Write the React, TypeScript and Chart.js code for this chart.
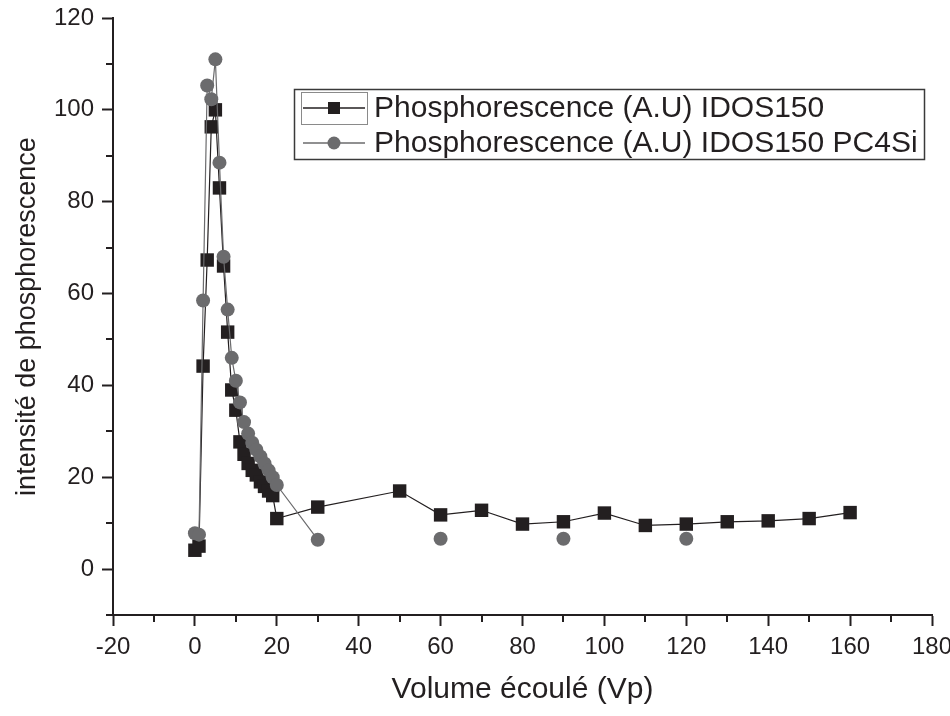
import React, { useEffect, useRef } from "react";
import { Chart, registerables } from "chart.js";

Chart.register(...registerables);

// ---- data ----
const volumeIDOS = [0, 1, 2, 3, 4, 5, 6, 7, 8, 9, 10, 11, 12, 13, 14, 15, 16, 17, 18, 19, 20, 30, 50, 60, 70, 80, 90, 100, 110, 120, 130, 140, 150, 160];
const intensIDOS = [4.1, 5, 44.2, 67.3, 96.3, 100, 83, 66, 51.6, 39, 34.6, 27.7, 25, 23, 21.5, 20.5, 19, 18, 17, 16, 11, 13.5, 17, 11.8, 12.8, 9.8, 10.3, 12.2, 9.5, 9.8, 10.3, 10.5, 11, 12.3];

const volumePC4Si = [0, 1, 2, 3, 4, 5, 6, 7, 8, 9, 10, 11, 12, 13, 14, 15, 16, 17, 18, 19, 20, 30, 60, 90, 120];
const intensPC4Si = [7.8, 7.5, 58.5, 105.3, 102.3, 111, 88.5, 68, 56.5, 46, 41, 36.3, 32, 29.5, 27.5, 26, 24.5, 23, 21.5, 20, 18.3, 6.4, 6.6, 6.6, 6.6];

const seriesLabels = ["Phosphorescence (A.U) IDOS150", "Phosphorescence (A.U) IDOS150 PC4Si"];
const xTitle = "Volume écoulé (Vp)";
const yTitle = "intensité de phosphorescence";

const xTickValues = [-20, -10, 0, 10, 20, 30, 40, 50, 60, 70, 80, 90, 100, 110, 120, 130, 140, 150, 160, 170, 180];
const yTickValues = [-10, 0, 10, 20, 30, 40, 50, 60, 70, 80, 90, 100, 110, 120];

const DARK = "#231f20";
const GRAY = "#6b6b6d";
const FONT = "'Liberation Sans', Arial, sans-serif";

const minorTicksPlugin = {
  id: "minorTicks",
  afterDraw(chart: any) {
    const ctx = chart.ctx;
    const xs = chart.scales.x;
    const ys = chart.scales.y;
    ctx.save();
    ctx.strokeStyle = DARK;
    ctx.lineWidth = 2;
    ctx.beginPath();
    xTickValues.forEach((v) => {
      if (v % 20 !== 0) {
        const px = Math.round(xs.getPixelForValue(v));
        ctx.moveTo(px, ys.bottom);
        ctx.lineTo(px, ys.bottom + 7);
      }
    });
    yTickValues.forEach((v) => {
      if (v % 20 !== 0) {
        const py = Math.round(ys.getPixelForValue(v));
        ctx.moveTo(xs.left, py);
        ctx.lineTo(xs.left - 7, py);
      }
    });
    ctx.stroke();
    ctx.restore();
  },
};

const boxLegendPlugin = {
  id: "boxLegend",
  afterDraw(chart: any) {
    const ctx = chart.ctx;
    ctx.save();
    ctx.strokeStyle = "#3a3a3a";
    ctx.lineWidth = 1.5;
    ctx.strokeRect(294.5, 89.5, 630, 70);
    ctx.strokeStyle = "#8a8a8a";
    ctx.lineWidth = 1;
    ctx.strokeRect(301.5, 92.5, 66, 32);
    const rows = [
      { y: 108, color: DARK, style: "rect" },
      { y: 143, color: GRAY, style: "circle" },
    ];
    rows.forEach((r, i) => {
      ctx.strokeStyle = r.color;
      ctx.lineWidth = 1.5;
      ctx.beginPath();
      ctx.moveTo(303, r.y);
      ctx.lineTo(365, r.y);
      ctx.stroke();
      ctx.fillStyle = r.color;
      if (r.style === "rect") {
        ctx.fillRect(328, r.y - 6, 12, 12);
      } else {
        ctx.beginPath();
        ctx.arc(334, r.y, 6.5, 0, Math.PI * 2);
        ctx.fill();
      }
      ctx.fillStyle = DARK;
      ctx.font = `30px ${FONT}`;
      ctx.textBaseline = "middle";
      ctx.textAlign = "left";
      ctx.fillText(seriesLabels[i], 374, r.y + 1);
    });
    ctx.restore();
  },
};

export default function App() {
  const canvasRef = useRef<HTMLCanvasElement | null>(null);

  useEffect(() => {
    if (!canvasRef.current) return;
    const chart = new Chart(canvasRef.current, {
      type: "line",
      data: {
        datasets: [
          {
            label: seriesLabels[1],
            data: volumePC4Si.map((x, i) => ({ x, y: intensPC4Si[i] })),
            borderColor: GRAY,
            backgroundColor: GRAY,
            borderWidth: 1.2,
            pointStyle: "circle",
            pointRadius: 7,
            pointBorderWidth: 0,
            pointBackgroundColor: GRAY,
            order: 0,
            segment: {
              borderColor: (c: any) => (c.p0.parsed.x >= 30 ? "transparent" : GRAY),
            },
          },
          {
            label: seriesLabels[0],
            data: volumeIDOS.map((x, i) => ({ x, y: intensIDOS[i] })),
            borderColor: DARK,
            backgroundColor: DARK,
            borderWidth: 1.2,
            pointStyle: "rect",
            pointRadius: 9.5,
            pointBorderWidth: 0,
            pointBackgroundColor: DARK,
            order: 1,
          },
        ],
      },
      options: {
        animation: false,
        responsive: false,
        layout: { padding: { top: 18, right: 18, left: 0, bottom: 0 } },
        plugins: {
          legend: { display: false },
          tooltip: { enabled: false },
        },
        scales: {
          x: {
            type: "linear",
            min: -20,
            max: 180,
            afterBuildTicks: (s: any) => {
              s.ticks = xTickValues.map((v) => ({ value: v }));
            },
            afterFit: (s: any) => {
              s.height = 101;
              s.paddingLeft = 0;
              s.paddingRight = 0;
            },
            border: { display: true, color: DARK, width: 2 },
            grid: {
              display: true,
              drawOnChartArea: false,
              drawTicks: true,
              tickLength: 11,
              tickWidth: 2,
              tickColor: (c: any) => (c.tick && c.tick.value % 20 === 0 ? DARK : "transparent"),
            },
            ticks: {
              autoSkip: false,
              maxRotation: 0,
              padding: 7,
              color: DARK,
              font: { family: FONT, size: 24 },
              callback: (v: any) => (Number(v) % 20 === 0 ? String(v) : ""),
            },
            title: {
              display: true,
              text: xTitle,
              color: DARK,
              font: { family: FONT, size: 30 },
              padding: { top: 0, bottom: 8 },
            },
          },
          y: {
            type: "linear",
            min: -10,
            max: 120,
            afterBuildTicks: (s: any) => {
              s.ticks = yTickValues.map((v) => ({ value: v }));
            },
            afterFit: (s: any) => {
              s.width = 113;
              s.paddingTop = 0;
              s.paddingBottom = 0;
            },
            border: { display: true, color: DARK, width: 2 },
            grid: {
              display: true,
              drawOnChartArea: false,
              drawTicks: true,
              tickLength: 11,
              tickWidth: 2,
              tickColor: (c: any) => (c.tick && c.tick.value % 20 === 0 ? DARK : "transparent"),
            },
            ticks: {
              autoSkip: false,
              padding: 8,
              color: DARK,
              font: { family: FONT, size: 24 },
              callback: (v: any) => (Number(v) % 20 === 0 ? String(v) : ""),
            },
            title: {
              display: true,
              text: yTitle,
              color: DARK,
              font: { family: FONT, size: 27 },
              padding: { top: 11, bottom: 0 },
            },
          },
        },
      },
      plugins: [minorTicksPlugin, boxLegendPlugin],
    } as any);
    return () => chart.destroy();
  }, []);

  return (
    <div style={{ position: "fixed", left: 0, top: 0, width: 950, height: 716, background: "#ffffff" }}>
      <canvas ref={canvasRef} width={950} height={716} style={{ display: "block" }} />
    </div>
  );
}
